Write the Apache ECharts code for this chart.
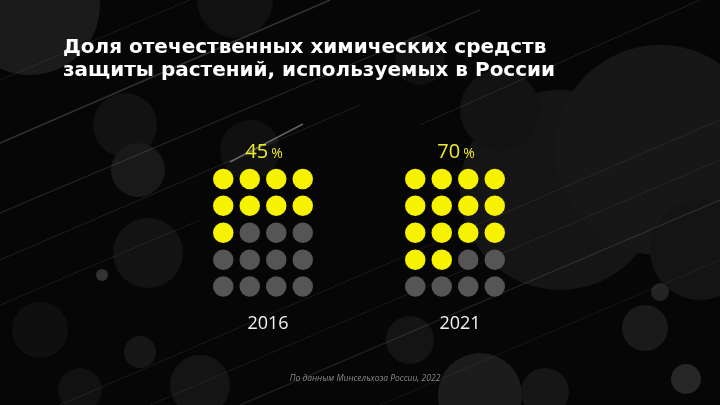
<!DOCTYPE html>
<html>
<head>
<meta charset="utf-8">
<script src="https://cdn.jsdelivr.net/npm/echarts@6/dist/echarts.min.js"></script>
<style>html,body{margin:0;padding:0;background:#050505;}#c{width:720px;height:405px;}</style>
</head>
<body>
<div id="c"></div>
<script>
const titleText = 'Доля отечественных химических средств\nзащиты растений, используемых в России';
const sourceText = 'По данным Минсельхоза России, 2022';
const years = ['2016', '2021'];
const shares = [45, 70];
const dotCols = 4;
const dotRows = 5;

const YELLOW = '#f6f200';
const GRAY = '#555555';
const gridLefts = [210, 402];
const cellW = 26.5, cellH = 26.9;
const gridTop = 165.5;

const chart = echarts.init(document.getElementById('c'));

const totalDots = dotCols * dotRows;
const grids = [], xAxes = [], yAxes = [], series = [], titles = [];

titles.push({
  text: titleText, left: 58, top: 31,
  textStyle: { color: '#ffffff', fontFamily: 'DejaVu Sans', fontWeight: 'bold', fontSize: 20, lineHeight: 23 }
});
titles.push({
  text: sourceText, left: 360, top: 369, textAlign: 'center',
  textStyle: { color: '#8a8a8a', fontFamily: 'Open Sans', fontStyle: 'italic', fontWeight: 'normal', fontSize: 8.5 }
});

years.forEach((y, gi) => {
  const left = gridLefts[gi];
  grids.push({ left: left, top: gridTop, width: cellW * dotCols, height: cellH * dotRows });
  xAxes.push({ type: 'value', gridIndex: gi, min: -0.5, max: dotCols - 0.5, show: false });
  yAxes.push({ type: 'value', gridIndex: gi, min: -0.5, max: dotRows - 0.5, inverse: true, show: false });
  const filled = Math.round(shares[gi] / 100 * totalDots);
  const data = [];
  for (let i = 0; i < totalDots; i++) {
    data.push({ value: [i % dotCols, Math.floor(i / dotCols)], itemStyle: { color: i < filled ? YELLOW : GRAY, opacity: 1 } });
  }
  series.push({
    type: 'scatter', xAxisIndex: gi, yAxisIndex: gi, symbol: 'circle', symbolSize: 20.5,
    data: data, silent: true, z: 5
  });
  const cx = left + cellW * dotCols / 2;
  titles.push({
    text: '{a|' + shares[gi] + '}{b|%}', left: cx - 4, top: 137, textAlign: 'center',
    textStyle: { rich: {
      a: { color: '#ecea2a', fontFamily: 'Open Sans', fontWeight: 'normal', fontSize: 20, verticalAlign: 'bottom' },
      b: { color: '#ecea2a', fontFamily: 'Open Sans', fontWeight: 'normal', fontSize: 14, padding: [0, 0, 1, 3], verticalAlign: 'bottom' }
    } }
  });
  titles.push({
    text: y, left: cx, top: 310, textAlign: 'center',
    textStyle: { color: '#f2f2f2', fontFamily: 'Open Sans', fontWeight: 'normal', fontSize: 18 }
  });
});

// decorative background
const bg = [];
const circ = (x, y, r, fill) => bg.push({ type: 'circle', shape: { cx: x, cy: y, r: r }, style: { fill: fill }, silent: true, z: -10 });
const line = (x1, y1, x2, y2, w, col, op) => bg.push({ type: 'line', shape: { x1, y1, x2, y2 }, style: { stroke: col, lineWidth: w, opacity: op }, silent: true, z: -9 });
bg.push({ type: 'rect', shape: { x: 0, y: 0, width: 720, height: 405 }, style: { fill: '#060606' }, silent: true, z: -20 });
circ(30, 5, 70, '#1b1b1b');
circ(235, 0, 38, '#111111');
circ(125, 125, 32, '#121212');
circ(138, 170, 27, '#191919');
circ(148, 253, 35, '#131313');
circ(102, 275, 6, '#333333');
circ(250, 150, 30, '#101010');
circ(560, 190, 100, '#151515');
circ(660, 150, 105, '#171717');
circ(500, 110, 40, '#131313');
circ(700, 250, 50, '#141414');
circ(420, 60, 25, '#101010');
circ(200, 385, 30, '#141414');
circ(140, 352, 16, '#161616');
circ(410, 340, 24, '#141414');
circ(480, 395, 42, '#1c1c1c');
circ(545, 392, 24, '#161616');
circ(645, 328, 23, '#1a1a1a');
circ(660, 292, 9, '#242424');
circ(686, 379, 15, '#262626');
circ(80, 390, 22, '#111111');
circ(40, 330, 28, '#0f0f0f');
line(0, 143, 330, 0, 1.5, '#9a9a9a', 0.3);
line(0, 213, 480, 10, 1, '#8a8a8a', 0.28);
line(230, 162, 303, 124, 1.5, '#bbbbbb', 0.5);
line(0, 260, 360, 105, 1, '#777777', 0.22);
line(60, 405, 720, 120, 1, '#777777', 0.18);
line(150, 405, 720, 160, 1, '#666666', 0.2);
line(0, 305, 200, 220, 1, '#777777', 0.18);
line(240, 405, 720, 200, 1.2, '#888888', 0.22);
line(380, 405, 720, 260, 1, '#666666', 0.18);
line(420, 125, 700, 0, 1, '#777777', 0.22);
line(0, 80, 190, 0, 1, '#777777', 0.18);

chart.setOption({
  backgroundColor: '#060606',
  animation: false,
  graphic: { elements: bg },
  title: titles,
  grid: grids,
  xAxis: xAxes,
  yAxis: yAxes,
  series: series
});
</script>
</body>
</html>
